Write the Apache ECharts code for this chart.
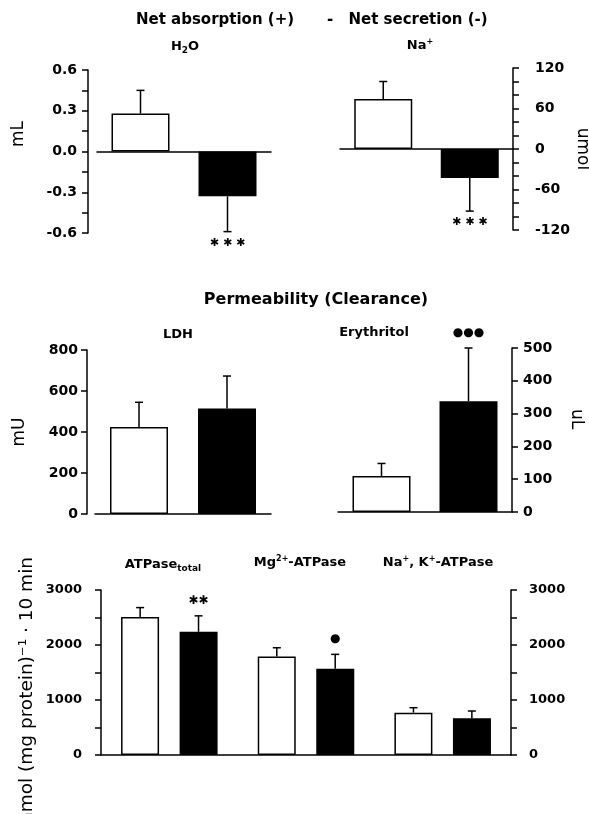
<!DOCTYPE html>
<html>
<head>
<meta charset="utf-8">
<script src="https://cdn.jsdelivr.net/npm/echarts@6/dist/echarts.min.js"></script>
<style>
  html, body { margin: 0; padding: 0; background: #fff; }
  #main { width: 589px; height: 814px; }
</style>
</head>
<body>
<div id="main"></div>
<script>
// values (mean, error bar length)
const pair = ['Control', 'Treated'];
const h2oMean = [0.28, -0.33];
const h2oErr = [0.17, 0.26];
const h2oSig = ['', '✱ ✱ ✱'];
const naMean = [74, -43];
const naErr = [26, 49];
const naSig = ['', '✱ ✱ ✱'];
const ldhMean = [425, 515];
const ldhErr = [120, 158];
const ldhSig = ['', ''];
const eryMean = [110, 338];
const eryErr = [38, 162];
const erySig = ['', '●●●'];
const atpCats = ['ATPase total', 'Mg2+-ATPase', 'Na+,K+-ATPase'];
const atpCtrl = [2510, 1790, 770];
const atpCtrlErr = [170, 160, 90];
const atpCtrlSig = ['', '', ''];
const atpTrt = [2240, 1570, 670];
const atpTrtErr = [290, 260, 130];
const atpTrtSig = ['✱✱', '●', ''];

const FONT = '"DejaVu Sans", "Liberation Sans", sans-serif';
const BLACK = '#000';

const chart = echarts.init(document.getElementById('main'), null, { renderer: 'canvas' });

function xAx(g, cats) {
  return {
    type: 'category', gridIndex: g, data: cats,
    axisLine: { lineStyle: { color: BLACK, width: 1.5 } },
    axisTick: { show: false }, axisLabel: { show: false }
  };
}

function yAx(g, pos, min, max, interval, minor, offset, margin, size, fmt) {
  return {
    type: 'value', gridIndex: g, position: pos, min: min, max: max, interval: interval,
    offset: offset,
    axisLine: { show: true, onZero: false, lineStyle: { color: BLACK, width: 1.5 } },
    axisTick: { show: true, length: 6, lineStyle: { color: BLACK, width: 1.5 } },
    minorTick: { show: minor > 1, splitNumber: minor, length: 6, lineStyle: { color: BLACK, width: 1.5 } },
    splitLine: { show: false },
    axisLabel: {
      color: BLACK, fontFamily: FONT, fontWeight: 'bold', fontSize: size, margin: margin,
      formatter: fmt || (v => String(v))
    }
  };
}

function barItems(means) {
  return means.map((v, i) => ({
    value: v,
    itemStyle: { color: i ? BLACK : '#fff', borderColor: BLACK, borderWidth: 1.5 }
  }));
}

function errSeries(g, means, errs, sigs, offset, sigSize) {
  return {
    type: 'custom', xAxisIndex: g, yAxisIndex: g, z: 5, clip: false,
    data: means.map((m, i) => [i, m, errs[i]]),
    renderItem: function (params, api) {
      const i = api.value(0), m = api.value(1), e = api.value(2);
      const dir = m < 0 ? -1 : 1;
      const a = api.coord([i, m]);
      const b = api.coord([i, m + dir * e]);
      const x = a[0] + offset;
      const kids = [
        { type: 'line', shape: { x1: x, y1: a[1], x2: x, y2: b[1] }, style: { stroke: BLACK, lineWidth: 1.5 } },
        { type: 'line', shape: { x1: x - 4, y1: b[1], x2: x + 4, y2: b[1] }, style: { stroke: BLACK, lineWidth: 1.5 } }
      ];
      const s = sigs[params.dataIndex];
      if (s) {
        kids.push({
          type: 'text', x: x, y: b[1] + (dir < 0 ? 11 : -15),
          style: { text: s, align: 'center', verticalAlign: 'middle', fill: BLACK,
                   font: 'bold ' + sigSize + 'px "DejaVu Sans", sans-serif' }
        });
      }
      return { type: 'group', children: kids };
    }
  };
}

const grids = [
  { left: 97, top: 70, width: 174, height: 163 },
  { left: 340, top: 68, width: 173, height: 162 },
  { left: 95, top: 350, width: 176, height: 164 },
  { left: 338, top: 348, width: 174, height: 164 },
  { left: 101, top: 590, width: 410, height: 165 }
];

const rich = {
  sub: { fontSize: 9, fontFamily: FONT, fontWeight: 'bold', padding: [8, 0, 0, 0] },
  sup: { fontSize: 8, fontFamily: FONT, fontWeight: 'bold', padding: [0, 0, 8, 0] }
};

function txt(x, y, text, size, weight, rot, align) {
  return {
    type: 'text', x: x, y: y, rotation: rot || 0,
    style: {
      text: text, align: align || 'center', verticalAlign: 'middle', fill: BLACK,
      fontFamily: FONT, fontSize: size, fontWeight: weight, rich: rich
    }
  };
}

const option = {
  animation: false,
  backgroundColor: '#fff',
  grid: grids,
  xAxis: [xAx(0, pair), xAx(1, pair), xAx(2, pair), xAx(3, pair), xAx(4, atpCats)],
  yAxis: [
    yAx(0, 'left', -0.6, 0.6, 0.3, 2, 9, 11, 14, v => v.toFixed(1)),
    yAx(1, 'right', -120, 120, 60, 3, 0, 22, 14),
    yAx(2, 'left', 0, 800, 200, 0, 8, 9, 14),
    yAx(3, 'right', 0, 500, 100, 0, 0, 11, 14),
    yAx(4, 'left', 0, 3000, 1000, 2, 0, 19, 13),
    yAx(4, 'right', 0, 3000, 1000, 2, 0, 18, 13)
  ],
  series: [
    { type: 'bar', xAxisIndex: 0, yAxisIndex: 0, barWidth: 58, data: barItems(h2oMean) },
    errSeries(0, h2oMean, h2oErr, h2oSig, 0, 11),
    { type: 'bar', xAxisIndex: 1, yAxisIndex: 1, barWidth: 58, data: barItems(naMean) },
    errSeries(1, naMean, naErr, naSig, 0, 11),
    { type: 'bar', xAxisIndex: 2, yAxisIndex: 2, barWidth: 58, data: barItems(ldhMean) },
    errSeries(2, ldhMean, ldhErr, ldhSig, 0, 12),
    { type: 'bar', xAxisIndex: 3, yAxisIndex: 3, barWidth: 58, data: barItems(eryMean) },
    errSeries(3, eryMean, eryErr, erySig, 0, 12),
    {
      type: 'bar', name: 'Control', xAxisIndex: 4, yAxisIndex: 4, barWidth: 38, barGap: '54%',
      itemStyle: { color: '#fff', borderColor: BLACK, borderWidth: 1.5 }, data: atpCtrl
    },
    {
      type: 'bar', name: 'Treated', xAxisIndex: 4, yAxisIndex: 4, barWidth: 38, barGap: '54%',
      itemStyle: { color: BLACK, borderColor: BLACK, borderWidth: 1.5 }, data: atpTrt
    },
    errSeries(4, atpCtrl, atpCtrlErr, atpCtrlSig, -29.2, 11),
    errSeries(4, atpTrt, atpTrtErr, atpTrtSig, 29.2, 12)
  ],
  graphic: [
    txt(215, 20, 'Net absorption (+)', 15, 'bold'),
    txt(330, 20, '-', 15, 'bold'),
    txt(418, 20, 'Net secretion (-)', 15, 'bold'),
    txt(185, 47, 'H{sub|2}O', 13, 'bold'),
    txt(420, 46, 'Na{sup|+}', 13, 'bold'),
    txt(19, 134, 'mL', 17, 'normal', Math.PI / 2),
    txt(582, 149, 'umol', 17, 'normal', -Math.PI / 2),
    txt(316, 300, 'Permeability (Clearance)', 16, 'bold'),
    txt(178, 335, 'LDH', 13, 'bold'),
    txt(374, 333, 'Erythritol', 13, 'bold'),
    txt(20, 432, 'mU', 17, 'normal', Math.PI / 2),
    txt(576, 419, 'uL', 17, 'normal', -Math.PI / 2),
    txt(163, 565, 'ATPase{sub|total}', 13, 'bold'),
    txt(300, 563, 'Mg{sup|2+}-ATPase', 13, 'bold'),
    txt(438, 563, 'Na{sup|+}, K{sup|+}-ATPase', 13, 'bold'),
    txt(27, 557, 'nmol (mg protein)\u207B\u00B9 \u00B7 10 min', 18.5, 'normal', Math.PI / 2, 'right')
  ]
};

chart.setOption(option);
</script>
</body>
</html>
